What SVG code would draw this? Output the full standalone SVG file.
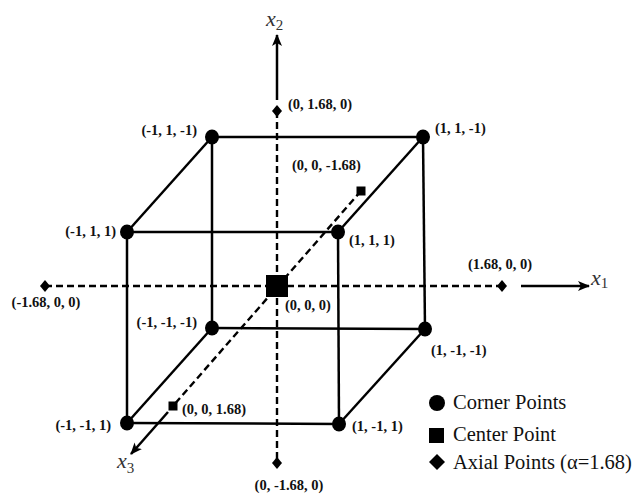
<svg xmlns="http://www.w3.org/2000/svg" width="634" height="494" viewBox="0 0 634 494">
<style>
.edge{stroke:#000;stroke-width:2.5;fill:none}
.dash{stroke:#000;stroke-width:2.4;fill:none;stroke-dasharray:7 4}
.arr{stroke:#000;stroke-width:2.5;fill:none}
.lbl{font-family:"Liberation Serif",serif;font-weight:bold;font-size:14.5px;fill:#111}
.ax{font-family:"Liberation Serif",serif;font-style:italic;font-size:22px;fill:#333}
.sub{font-size:15px;font-style:normal}
.leg{font-family:"Liberation Serif",serif;font-size:20.5px;fill:#111}
</style>
<defs>
<marker id="ah" viewBox="0 0 12 10" refX="11" refY="5" markerWidth="12" markerHeight="10" markerUnits="userSpaceOnUse" orient="auto">
<path d="M0,0 L12,5 L0,10 L3,5 Z" fill="#000"/>
</marker>
</defs>
<g id="connectors">
<line class="dash" x1="45" y1="286" x2="502" y2="286"/>
<line class="dash" x1="277" y1="111" x2="277" y2="463"/>
<line class="dash" x1="361" y1="191" x2="173" y2="406"/>
<line class="arr" x1="521" y1="286" x2="589" y2="286" marker-end="url(#ah)"/>
<line class="arr" x1="277" y1="100" x2="277" y2="35" marker-end="url(#ah)"/>
<line class="arr" x1="168" y1="412" x2="131" y2="454" marker-end="url(#ah)"/>
<line class="edge" x1="212" y1="137" x2="423" y2="137"/>
<line class="edge" x1="212" y1="137" x2="212" y2="328"/>
<line class="edge" x1="423" y1="137" x2="425" y2="329"/>
<line class="edge" x1="212" y1="328" x2="425" y2="329"/>
<line class="edge" x1="127" y1="232" x2="338" y2="232"/>
<line class="edge" x1="127" y1="232" x2="127" y2="423"/>
<line class="edge" x1="338" y1="232" x2="339" y2="424"/>
<line class="edge" x1="127" y1="423" x2="339" y2="424"/>
<line class="edge" x1="212" y1="137" x2="127" y2="232"/>
<line class="edge" x1="423" y1="137" x2="338" y2="232"/>
<line class="edge" x1="212" y1="328" x2="127" y2="423"/>
<line class="edge" x1="425" y1="329" x2="339" y2="424"/>
</g>
<g id="corner-m1-p1-m1"><ellipse cx="212" cy="137" rx="7" ry="7.5"/><text class="lbl" x="197" y="135" text-anchor="end">(-1, 1, -1)</text></g>
<g id="corner-p1-p1-m1"><ellipse cx="423" cy="137" rx="7" ry="7.5"/><text class="lbl" x="435" y="133">(1, 1, -1)</text></g>
<g id="corner-m1-p1-p1"><ellipse cx="127" cy="232" rx="7" ry="7.5"/><text class="lbl" x="116" y="236" text-anchor="end">(-1, 1, 1)</text></g>
<g id="corner-p1-p1-p1"><ellipse cx="338" cy="232" rx="7" ry="7.5"/><text class="lbl" x="349" y="245">(1, 1, 1)</text></g>
<g id="corner-m1-m1-m1"><ellipse cx="212" cy="328" rx="7" ry="7.5"/><text class="lbl" x="197" y="327" text-anchor="end">(-1, -1, -1)</text></g>
<g id="corner-p1-m1-m1"><ellipse cx="425" cy="329" rx="7" ry="7.5"/><text class="lbl" x="431" y="355">(1, -1, -1)</text></g>
<g id="corner-m1-m1-p1"><ellipse cx="127" cy="423" rx="7" ry="7.5"/><text class="lbl" x="111" y="430" text-anchor="end">(-1, -1, 1)</text></g>
<g id="corner-p1-m1-p1"><ellipse cx="339" cy="424" rx="7" ry="7.5"/><text class="lbl" x="352" y="431">(1, -1, 1)</text></g>
<g id="center"><rect x="266" y="275" width="22" height="22"/><text class="lbl" x="285" y="310">(0, 0, 0)</text></g>
<g id="axial-z-neg"><rect x="356.5" y="186.5" width="9" height="9"/><text class="lbl" x="292" y="170">(0, 0, -1.68)</text></g>
<g id="axial-z-pos"><rect x="168.5" y="401.5" width="9" height="9"/><text class="lbl" x="182" y="414">(0, 0, 1.68)</text></g>
<g id="axial-y-pos"><path d="M277,105 L282,111 L277,117 L272,111 Z"/><text class="lbl" x="288" y="109">(0, 1.68, 0)</text></g>
<g id="axial-y-neg"><path d="M277,457 L282,463 L277,469 L272,463 Z"/><text class="lbl" x="289" y="490" text-anchor="middle">(0, -1.68, 0)</text></g>
<g id="axial-x-neg"><path d="M45,280 L50,286 L45,292 L40,286 Z"/><text class="lbl" x="46" y="307" text-anchor="middle">(-1.68, 0, 0)</text></g>
<g id="axial-x-pos"><path d="M502,280 L507,286 L502,292 L497,286 Z"/><text class="lbl" x="500" y="269" text-anchor="middle">(1.68, 0, 0)</text></g>
<g id="axis-labels">
<text class="ax" x="591" y="285">x<tspan class="sub" dy="3">1</tspan></text>
<text class="ax" x="266" y="26">x<tspan class="sub" dy="4">2</tspan></text>
<text class="ax" x="117" y="468">x<tspan class="sub" dy="5">3</tspan></text>
</g>
<g id="legend">
<circle cx="437" cy="403" r="8"/><text class="leg" x="453" y="409">Corner Points</text>
<rect x="429" y="428" width="15" height="15"/><text class="leg" x="453" y="441">Center Point</text>
<path d="M437,454 L445,462 L437,470 L429,462 Z"/><text class="leg" x="453" y="469">Axial Points (α=1.68)</text>
</g>
</svg>
